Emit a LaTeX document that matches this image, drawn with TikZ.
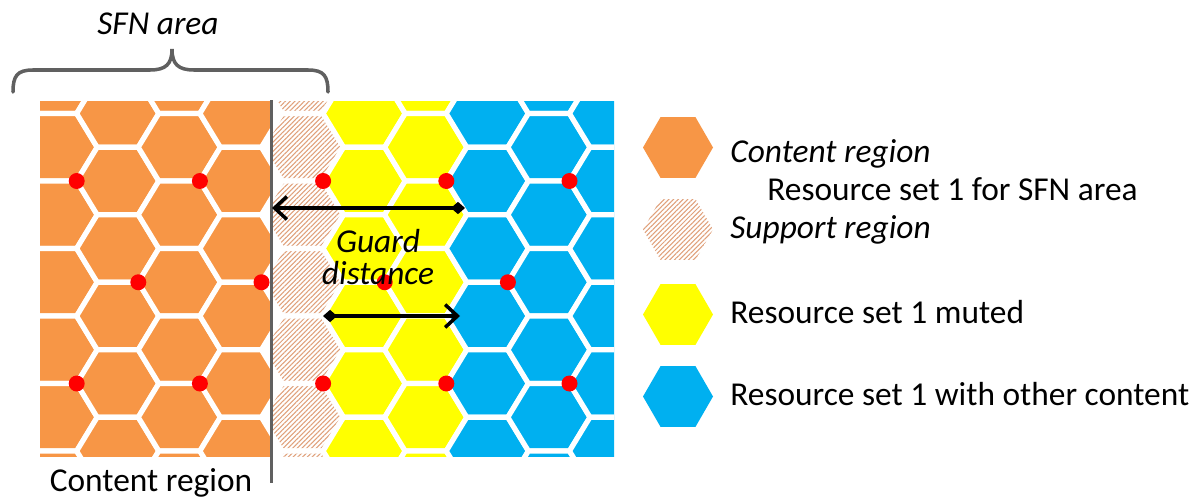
\documentclass[tikz,border=0pt]{standalone}
\usepackage{fontspec}
\setmainfont{Carlito}
\usetikzlibrary{arrows.meta, positioning, shapes.geometric, patterns.meta}
\definecolor{cOrange}{HTML}{F79646}
\definecolor{cYellow}{HTML}{FFFF00}
\definecolor{cBlue}{HTML}{00B0F0}
\definecolor{cHatch}{HTML}{E0A07A}
\definecolor{cLine}{HTML}{606060}
\newcommand{\lblfont}{\fontsize{19}{18}\selectfont}
% one flat-topped cell of the grid, centre (#1,#2)
\newcommand{\hexcell}[2]{(#1-41,#2) -- (#1-20.5,#2-33.75) -- (#1+20.5,#2-33.75) -- (#1+41,#2) -- (#1+20.5,#2+33.75) -- (#1-20.5,#2+33.75) -- cycle}
% one column of cells, #1 = column index, #2 = fill style
\newcommand{\hexcol}[2]{%
    \pgfmathsetmacro\cx{56.1+61.6*#1}%
    \pgfmathsetmacro\cy{mod(#1,2)==1 ? 113.5 : 79.75}%
    \foreach \k in {0,...,6}{\path[cell,#2] \hexcell{\cx}{\cy+67.5*\k};}}

\begin{document}
\begin{tikzpicture}[x=0.02cm, y=-0.02cm,
    cell/.style={draw=white, line width=2.9pt, line join=round},
    lbl/.style={font=\lblfont, inner sep=0pt},
    lhex/.style={regular polygon, regular polygon sides=6, minimum size=1.4cm, inner sep=0pt},
    hatch/.style={pattern={Lines[angle=45, distance=1.9pt, line width=0.6pt]}, pattern color=cHatch},
    gd/.style={{Diamond[length=8pt, width=7pt]}-{Straight Barb[length=7pt, width=13pt, line width=2pt]}, line width=2pt},
    brace/.style={draw=cLine, line width=2pt, line cap=round}
]
    \useasboundingbox (0,0) rectangle (1192,500);
    \fill[white] (0,0) rectangle (1192,500);

    % hexagon grid
    \begin{scope}
        \clip (40,101) rectangle (614,456);
        \begin{scope}
            \clip (0,0) rectangle (271.5,500);
            \foreach \c in {0,...,3}{\hexcol{\c}{fill=cOrange}}
        \end{scope}
        \begin{scope}
            \clip (271.5,0) rectangle (700,500);
            \hexcol{4}{hatch}
        \end{scope}
        \foreach \c in {5,6}{\hexcol{\c}{fill=cYellow}}
        \foreach \c in {7,8,9}{\hexcol{\c}{fill=cBlue}}
    \end{scope}

    % red dots
    \foreach \c in {1,3,5,7,9}{
        \foreach \y in {181,383.5}{\fill[red] ({15.1+61.6*\c},\y) circle[radius=0.16cm];}}
    \foreach \c in {2,4,6,8}{\fill[red] ({15.1+61.6*\c},282.25) circle[radius=0.16cm];}

    % border of the content region
    \draw[cLine, line width=1.7pt] (271.5,100) -- (271.5,483);

    % SFN area brace
    \draw[brace] (13,92) .. controls (13,76) and (17,70) .. (33,70) -- (150,70)
        .. controls (166,70) and (172,64) .. (172,49)
        .. controls (172,64) and (178,70) .. (194,70) -- (308,70)
        .. controls (324,70) and (328,76) .. (328,92);
    \node[lbl, font=\lblfont\itshape, anchor=base] (sfn) at (158,35) {SFN area};
    \node[lbl, anchor=base] (cregion) at (151,491) {Content region};

    % guard distance
    \coordinate (gdA) at (465,208);
    \coordinate (gdB) at (272,208);
    \coordinate (gdC) at (323,316);
    \coordinate (gdD) at (460,316);
    \draw[gd] (gdA) -- (gdB);
    \draw[gd] (gdC) -- (gdD);
    \node[lbl, font=\lblfont\itshape, align=center] (guard) at (378,257) {Guard\\distance};

    % legend
    \node[lhex, fill=cOrange] (lgcont) at (678,147.5) {};
    \node[lhex, hatch] (lgsupp) at (678,229.5) {};
    \node[lhex, fill=cYellow] (lgmute) at (678,314.5) {};
    \node[lhex, fill=cBlue] (lgother) at (678,396.5) {};
    \node[lbl, font=\lblfont\itshape, anchor=base west] (tcont) at (730,162) {Content region};
    \node[lbl, anchor=base west] (tset) at (767,200) {Resource set 1 for SFN area};
    \node[lbl, font=\lblfont\itshape, anchor=base west] (tsupp) at (730,238) {Support region};
    \node[lbl, anchor=base west] (tmute) at (730,323) {Resource set 1 muted};
    \node[lbl, anchor=base west] (tother) at (730,405) {Resource set 1 with other content};
\end{tikzpicture}
\end{document}
